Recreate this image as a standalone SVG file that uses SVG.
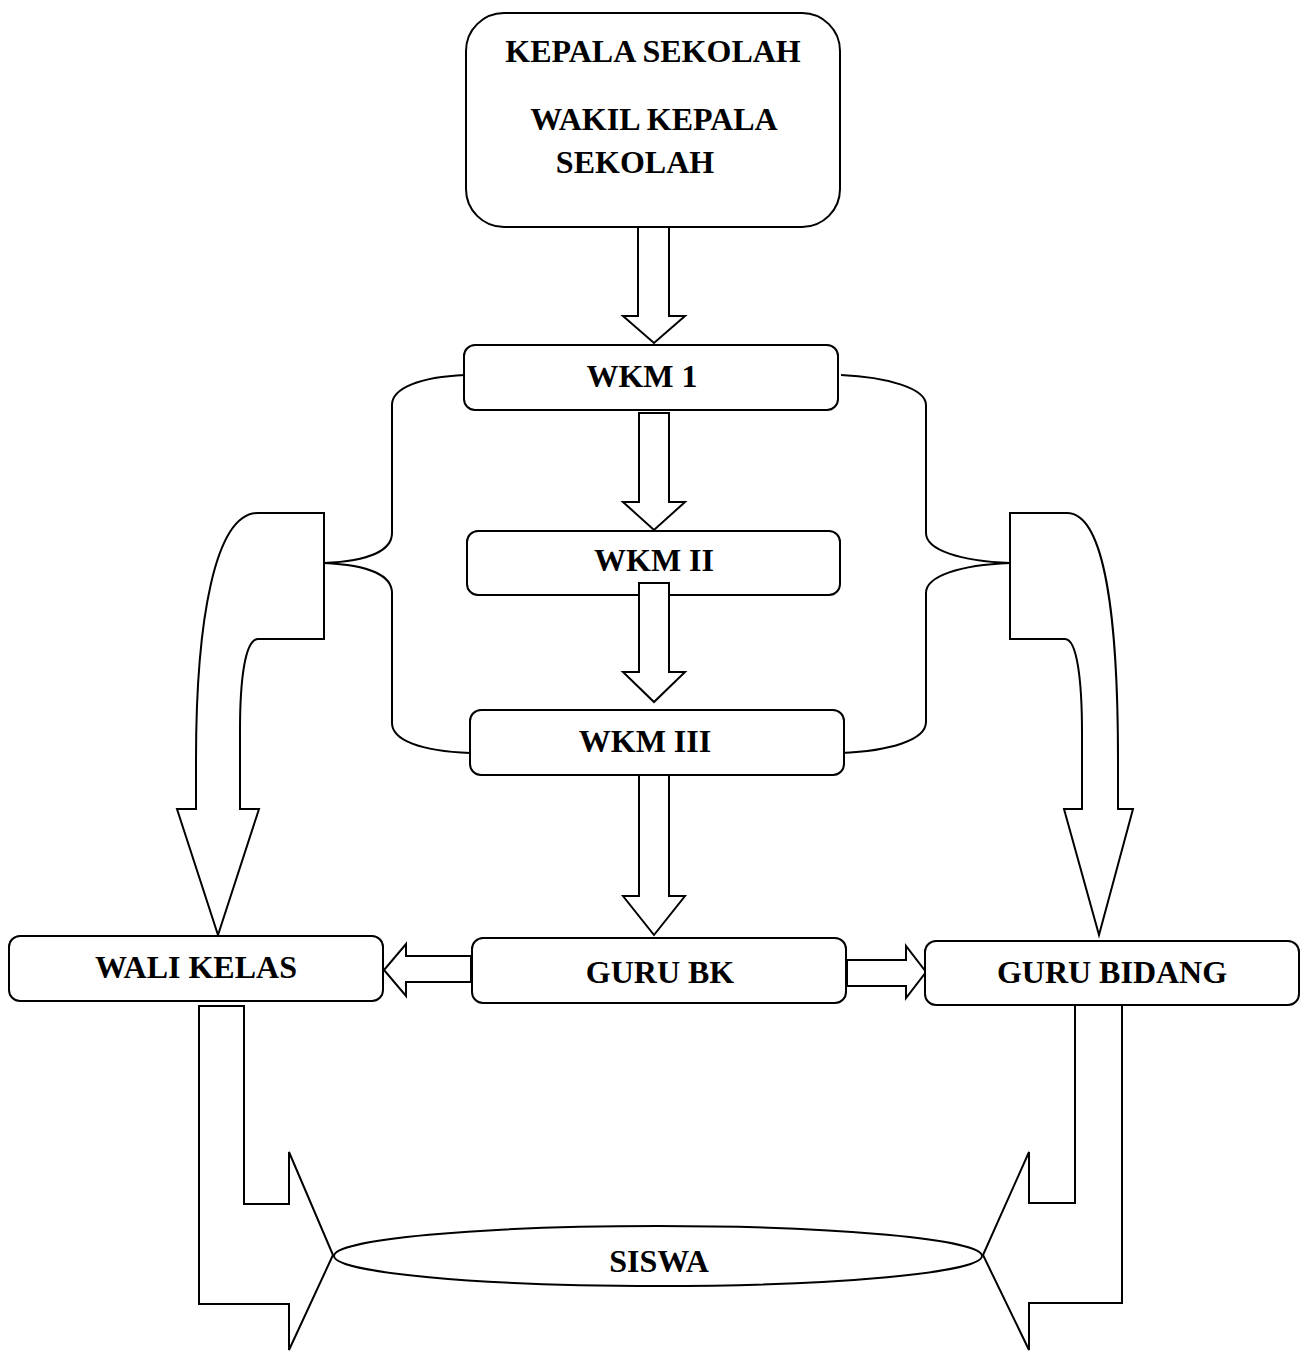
<svg xmlns="http://www.w3.org/2000/svg" width="1302" height="1352" viewBox="0 0 1302 1352">
<style>
.box{fill:#fff;stroke:#000;stroke-width:2}
.arr{fill:#fff;stroke:#000;stroke-width:2;stroke-linejoin:miter}
.ln{fill:none;stroke:#000;stroke-width:2}
.t{font-family:"Liberation Serif","Times New Roman",serif;font-weight:bold;font-size:32px;text-anchor:middle;fill:#000}
</style>
<rect width="1302" height="1352" fill="#fff"/>
<g id="connectors">
<path class="arr" d="M638,227 L669,227 L669,316 L685,316 L654,343 L623,316 L638,316 Z"/>
<path class="ln" d="M465,375 C420,377 392,388 392,405 L392,533 C392,550 370,561 324,563"/>
<path class="ln" d="M324,563 C370,565 392,576 392,593 L392,723 C392,740 420,751 470,753"/>
<path class="ln" d="M841,375 C886,377 926,388 926,405 L926,533 C926,550 960,561 1010,563"/>
<path class="ln" d="M1010,563 C960,565 926,576 926,593 L926,722 C926,740 890,751 841,753"/>
<path class="arr" d="M258,513 L324,513 L324,639 L258,639 C245,639 240,680 240,730 L240,809 L259,809 L218,935 L177,809 L196,809 L196,760 C196,620 215,513 258,513 Z"/>
<path class="arr" d="M1067,513 L1010,513 L1010,639 L1065,639 C1077,639 1082,680 1082,733 L1082,809 L1064,809 L1099,935 L1133,809 L1118,809 L1118,760 C1118,620 1105,513 1067,513 Z"/>
<path class="arr" d="M639,413 L669,413 L669,502 L685,502 L654,530 L623,502 L639,502 Z"/>
<path class="arr" d="M471,956 L406,956 L406,944 L384,970 L406,996 L406,982 L471,982 Z"/>
<path class="arr" d="M847,960 L906,960 L906,946 L926,972 L906,998 L906,986 L847,986 Z"/>
<path class="arr" d="M199,1006 L244,1006 L244,1204 L289,1204 L289,1152 L333,1255 L289,1350 L289,1304 L199,1304 Z"/>
<path class="arr" d="M1122,1005 L1075,1005 L1075,1203 L1029,1203 L1029,1152 L983,1255 L1029,1350 L1029,1303 L1122,1303 Z"/>
</g>
<g id="kepala">
<rect class="box" x="466" y="13" width="374" height="214" rx="38" ry="38"/>
<text class="t" x="653" y="62">KEPALA SEKOLAH</text>
<text class="t" x="654" y="130">WAKIL KEPALA</text>
<text class="t" x="635" y="173">SEKOLAH</text>
</g>
<g id="wkm1">
<rect class="box" x="464" y="345" width="374" height="65" rx="11" ry="11"/>
<text class="t" x="642" y="387">WKM 1</text>
</g>
<g id="wkm2">
<rect class="box" x="467" y="531" width="373" height="64" rx="11" ry="11"/>
<text class="t" x="654" y="571">WKM II</text>
</g>
<path class="arr" d="M639,583 L669,583 L669,672 L685,672 L654,702 L623,672 L639,672 Z"/>
<g id="wkm3">
<rect class="box" x="470" y="710" width="374" height="65" rx="11" ry="11"/>
<text class="t" x="645" y="752">WKM III</text>
</g>
<path class="arr" d="M639,775 L669,775 L669,896 L685,896 L654,935 L623,896 L639,896 Z"/>
<g id="walikelas">
<rect class="box" x="9" y="936" width="374" height="65" rx="11" ry="11"/>
<text class="t" x="196" y="978">WALI KELAS</text>
</g>
<g id="gurubk">
<rect class="box" x="472" y="938" width="374" height="65" rx="11" ry="11"/>
<text class="t" x="660" y="983">GURU BK</text>
</g>
<g id="gurubidang">
<rect class="box" x="925" y="941" width="374" height="64" rx="11" ry="11"/>
<text class="t" x="1112" y="983">GURU BIDANG</text>
</g>
<g id="siswa">
<ellipse class="box" cx="658" cy="1256" rx="324" ry="30"/>
<text class="t" x="659" y="1272">SISWA</text>
</g>
</svg>
